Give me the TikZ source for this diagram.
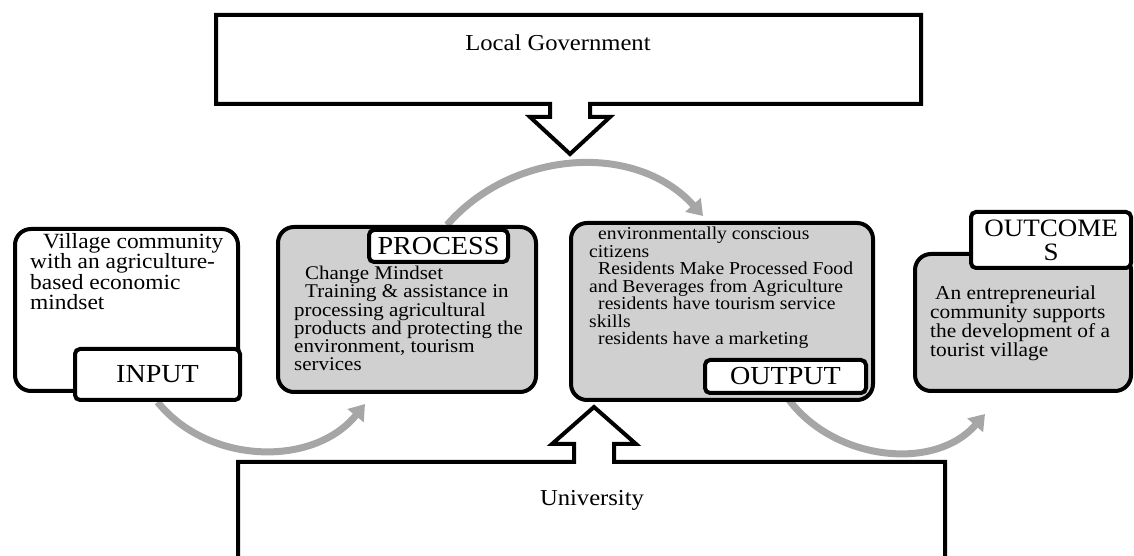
\documentclass[tikz,border=0pt]{standalone}
\usepackage{fontspec}
\setmainfont{Liberation Serif}[FakeStretch=1.08]
\usetikzlibrary{positioning}
\usetikzlibrary{arrows.meta}
\usetikzlibrary{backgrounds}
\definecolor{boxgray}{HTML}{D0D0D0}
\definecolor{arcgray}{HTML}{A6A6A6}

\begin{document}
\begin{tikzpicture}[x=1pt,y=1pt,
whites/.style={rectangle,rounded corners=16pt,draw,line width=4pt,fill=white},
grays/.style={rectangle,rounded corners=16pt,draw,line width=4pt,fill=boxgray},
tags/.style={rectangle,rounded corners=5pt,draw,line width=4pt,fill=white,inner sep=0pt,align=center,font=\fontsize{26}{22}\selectfont},
texts/.style={inner sep=0pt,anchor=north west,align=left},
blocks/.style={draw,line width=4pt,fill=white,line join=miter},
arcs/.style={draw=arcgray,line width=7pt,-{Triangle[width=20pt,length=15pt]}}]
\clip (0,0) rectangle (1134,556);

\draw [blocks] (216,541) -- (921,541) -- (921,452) -- (590,452) -- (590,439) -- (610,439)
  -- (570,402) -- (530,439) -- (550,439) -- (550,452) -- (216,452) -- cycle;
\node [font=\fontsize{22.8}{24}\selectfont] (gov) at (558,513) {Local Government};

\draw [blocks] (238,-10) -- (238,94) -- (574,94) -- (574,112) -- (552,112) -- (594,149)
  -- (636,112) -- (614,112) -- (614,94) -- (945,94) -- (945,-10) -- cycle;
\node [font=\fontsize{22.8}{24}\selectfont] (univ) at (592,56) {University};

\node [whites,minimum width=223pt,minimum height=162pt] (input) at (126.5,246) {};
\node [tags,minimum width=165pt,minimum height=51pt] (input-tag) at (157.5,181.5) {INPUT};
\node [texts,font=\fontsize{21.7}{19.7}\selectfont] (input-text) at ([shift={(17,-6)}]input.north west)
  {\hspace*{13pt}Village community\\with an agriculture-\\based economic\\mindset};

\node [grays,minimum width=258pt,minimum height=165pt] (process) at (407,246.5) {};
\node [tags,minimum width=139pt,minimum height=32pt] (process-tag) at (438.5,310) {PROCESS};
\node [texts,font=\fontsize{19.4}{18.2}\selectfont] (process-text) at ([shift={(18,-41)}]process.north west)
  {\hspace*{11pt}Change Mindset\\\hspace*{11pt}Training \& assistance in\\processing agricultural\\products and protecting the\\environment, tourism\\services};

\node [grays,minimum width=302pt,minimum height=177pt] (output) at (722,244.5) {};
\node [tags,minimum width=161pt,minimum height=33pt] (output-tag) at (785.5,179.5) {OUTPUT};
\node [texts,font=\fontsize{18.2}{17.5}\selectfont] (output-text) at ([shift={(20,-6)}]output.north west)
  {\hspace*{9pt}environmentally conscious\\citizens\\\hspace*{9pt}Residents Make Processed Food\\and Beverages from Agriculture\\\hspace*{9pt}residents have tourism service\\skills\\\hspace*{9pt}residents have a marketing};

\node [grays,minimum width=216pt,minimum height=137pt] (outcome) at (1023,233.5) {};
\node [tags,minimum width=160pt,minimum height=56pt,font=\fontsize{25}{24}\selectfont] (outcome-tag) at (1051,316) {OUTCOME\\S};
\node [texts,font=\fontsize{19.8}{19}\selectfont] (outcome-text) at ([shift={(17,-34)}]outcome.north west)
  {\hspace*{5pt}An entrepreneurial\\community supports\\the development of a\\tourist village};

\begin{scope}[on background layer]
\draw [arcs] (input-tag.south) to [out=-51,in=-129] ([shift={(-42,-10)}]process.south);
\draw [arcs] ([xshift=40pt]process.north) to [out=49,in=132] ([shift={(-19,5)}]output.north);
\draw [arcs] (output-tag.south) to [out=-56,in=-131] ([shift={(-38,-21)}]outcome.south);
\end{scope}
\end{tikzpicture}
\end{document}
